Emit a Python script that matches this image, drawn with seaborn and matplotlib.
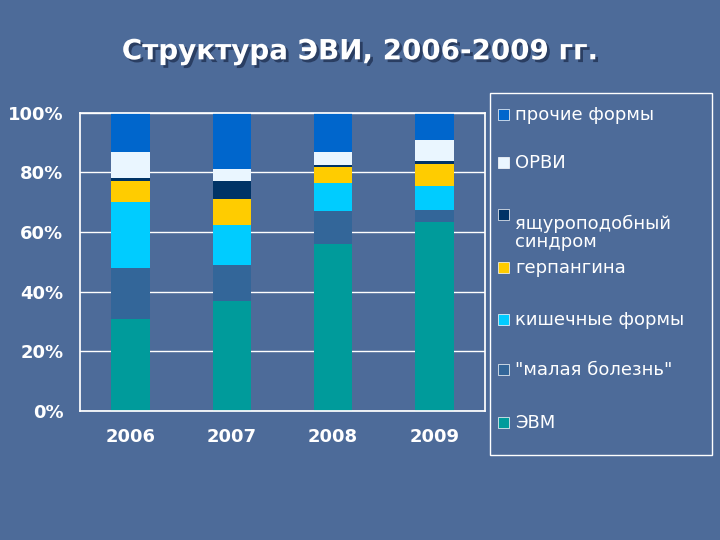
import matplotlib
matplotlib.use("Agg")
import matplotlib.pyplot as plt
import matplotlib.patheffects as pe
from matplotlib.patches import Patch, Rectangle
import numpy as np
import pandas as pd
import seaborn as sns

years = ["2006", "2007", "2008", "2009"]
series = ["ЭВМ", "\"малая болезнь\"", "кишечные формы", "герпангина",
          "ящуроподобный\nсиндром", "ОРВИ", "прочие формы"]
evm = [31, 37, 56, 63.5]
malaya = [17, 12, 11, 4]
kishech = [22, 13.5, 9.5, 8]
gerpang = [7, 8.5, 5.5, 7.5]
yashchur = [1, 6, 0.5, 1]
orvi = [9, 4, 4.5, 7]
prochie = [13, 19, 13, 9]
colors = ["#009b9b", "#336699", "#00ccff", "#ffcc00", "#003366", "#eaf6ff", "#0066cc"]

BG = "#4d6b99"
sns.set_theme(style="white")
plt.rcParams["font.family"] = ["DejaVu Sans"]

values = np.array([evm, malaya, kishech, gerpang, yashchur, orvi, prochie])
cum = values.cumsum(axis=0)

fig = plt.figure(figsize=(7.2, 5.4), dpi=100)
fig.patch.set_facecolor(BG)
ax = fig.add_axes([0.111, 0.239, 0.5625, 0.552])
ax.set_facecolor(BG)

for i in range(len(series) - 1, -1, -1):
    df = pd.DataFrame({"year": years, "v": cum[i]})
    sns.barplot(data=df, x="year", y="v", color=colors[i], width=0.38,
                saturation=1, ax=ax, edgecolor="none", linewidth=0)

ax.set_ylim(0, 100)
ax.set_yticks(range(0, 101, 20))
ax.set_yticklabels([f"{t}%" for t in range(0, 101, 20)])
ax.yaxis.grid(True, color="white", linewidth=1)
ax.set_axisbelow(True)
ax.set_xlabel("")
ax.set_ylabel("")
for s in ax.spines.values():
    s.set_color("white")
ax.tick_params(colors="white", labelsize=13, length=0, pad=12)
for lbl in ax.get_xticklabels() + ax.get_yticklabels():
    lbl.set_fontweight("bold")
    lbl.set_color("white")

fig.text(0.5, 0.905, "Структура ЭВИ, 2006-2009 гг.", ha="center", va="center",
         color="white", fontsize=20, fontweight="bold",
         path_effects=[pe.withSimplePatchShadow(offset=(2, -2), shadow_rgbFace="#223355", alpha=0.8)])

# legend box
fig.patches.append(Rectangle((490 / 720, 85 / 540), 222 / 720, 362 / 540,
                             transform=fig.transFigure, fill=False, edgecolor="white", linewidth=1))
ypos = [115, 163, 215, 268, 320, 370, 423]
labels_top = list(reversed(series))
cols_top = list(reversed(colors))
for y, lab, c in zip(ypos, labels_top, cols_top):
    fy = 1 - y / 540
    fig.patches.append(Rectangle((498 / 720, fy - 5 / 540), 11 / 720, 11 / 540,
                                 transform=fig.transFigure, facecolor=c, edgecolor="white", linewidth=0.5))
    fig.text(515 / 720, fy, lab, color="white", fontsize=13, va="top" if "\n" in lab else "center",
             linespacing=1.0)

fig.savefig("out.png", dpi=100, facecolor=BG)
